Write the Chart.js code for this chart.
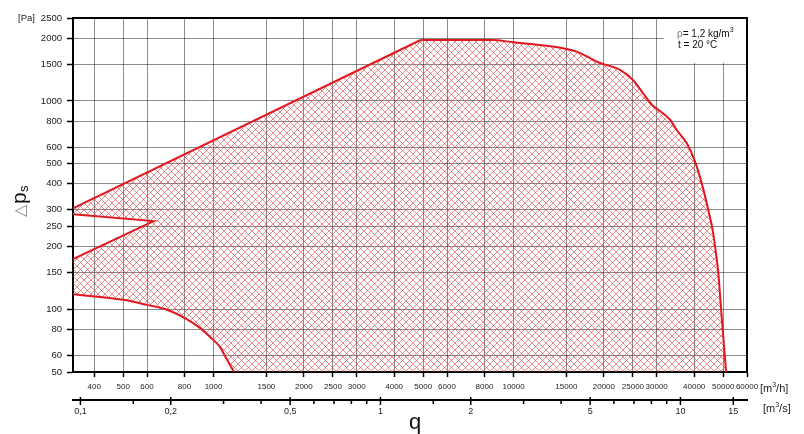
<!DOCTYPE html>
<html>
<head>
<meta charset="utf-8">
<script src="https://cdn.jsdelivr.net/npm/chart.js@4/dist/chart.umd.min.js"></script>
<style>
  html, body { margin: 0; padding: 0; background: #fff; }
</style>
</head>
<body>
<canvas id="chart" width="804" height="434"></canvas>
<script>
// Límites de los ejes
const Q_MIN = 340, Q_MAX = 60000;
const P_MIN = 50, P_MAX = 2500;

// Marcas de los ejes
const qTicks = [400, 500, 600, 800, 1000, 1500, 2000, 2500, 3000, 4000, 5000, 6000, 8000, 10000,
                15000, 20000, 25000, 30000, 40000, 50000, 60000];
const pTicks = [50, 60, 80, 100, 150, 200, 250, 300, 400, 500, 600, 800, 1000, 1500, 2000, 2500];
const qsTicks = [0.1, 0.15, 0.2, 0.3, 0.4, 0.5, 0.6, 0.7, 0.8, 0.9, 1, 1.5, 2, 3, 4, 5, 6, 7, 8, 9, 10, 15];
const qsLabels = [0.1, 0.2, 0.5, 1, 2, 5, 10, 15];

// Borde superior recto (m3/h, Pa)
const topLineQ = [340, 4900];
const topLineP = [305, 1960];

// Curva superior derecha
const curveQ = [4900, 8500, 10000, 12000, 14600, 16300, 19450, 22650, 25000, 27000, 29000, 30100,
                33300, 35000, 37800, 40300, 42400, 44600, 46100, 47300, 48150, 49000, 50000, 51100];
const curveP = [1960, 1960, 1910, 1860, 1790, 1720, 1520, 1410, 1260, 1090, 955, 915,
                810, 725, 626, 510, 402, 299, 240, 185, 149, 107, 74, 50];

// Curva inferior izquierda
const lowerQ = [340, 500, 600, 692, 800, 905, 1000, 1050, 1096, 1170];
const lowerP = [118, 111, 105, 100, 91, 81, 71, 66, 59, 50];

// Cuña a la izquierda
const wedgeQ = [340, 631, 340];
const wedgeP = [174, 265, 286];

const pts = (qs, ps) => qs.map((q, i) => ({ x: q, y: ps[i] }));

// Polígono de la zona de trabajo
const area = [
    ...pts(topLineQ, topLineP),
    ...pts(curveQ.slice(1), curveP.slice(1)),
    ...pts(lowerQ, lowerP).reverse(),
    ...pts(wedgeQ, wedgeP)
];

const RED = 'rgb(226, 22, 30)';
const FONT = '"Liberation Sans", Arial, sans-serif';

// Trama cruzada roja
const canvas = document.getElementById('chart');
const ctx = canvas.getContext('2d');
function makeHatch() {
    const c = document.createElement('canvas');
    c.width = 7; c.height = 7;
    const g = c.getContext('2d');
    g.strokeStyle = 'rgba(218, 50, 50, 0.7)';
    g.lineWidth = 0.8;
    g.beginPath();
    for (const o of [-7, 0, 7]) {
        g.moveTo(o, 0); g.lineTo(o + 7, 7);
        g.moveTo(o, 7); g.lineTo(o + 7, 0);
    }
    g.stroke();
    return ctx.createPattern(c, 'repeat');
}

Chart.defaults.font.family = FONT;
Chart.defaults.font.size = 8;
Chart.defaults.color = '#222';

// texto con exponente "3"
function unitText(ctx, x, y, before, after, size) {
    ctx.font = size + 'px ' + FONT;
    ctx.fillText(before, x, y);
    x += ctx.measureText(before).width;
    ctx.font = Math.round(size * 0.65) + 'px ' + FONT;
    ctx.fillText('3', x, y - size * 0.35);
    x += ctx.measureText('3').width;
    ctx.font = size + 'px ' + FONT;
    ctx.fillText(after, x, y);
}

// Textos y detalles extra
const extras = {
    id: 'extras',
    beforeDatasetsDraw(chart) {
        const { ctx, chartArea: a } = chart;
        ctx.save();
        ctx.fillStyle = '#fff';
        ctx.fillRect(664, a.top + 1, a.right - 665, 44);
        ctx.restore();
    },
    afterDraw(chart) {
        const { ctx, chartArea: a } = chart;
        const x2 = chart.scales.x2;
        ctx.save();
        // marco
        ctx.strokeStyle = '#000';
        ctx.lineWidth = 2;
        ctx.beginPath();
        ctx.moveTo(a.left, a.top);
        ctx.lineTo(a.right, a.top);
        ctx.lineTo(a.right, a.bottom);
        ctx.stroke();

        // marcas del eje m3/s
        const y0 = x2.top + 1;
        ctx.lineWidth = 1.5;
        ctx.beginPath();
        qsTicks.forEach(v => {
            const px = x2.getPixelForValue(v);
            const big = qsLabels.includes(v);
            ctx.moveTo(px, y0 - (big ? 4 : 2));
            ctx.lineTo(px, y0 + (big ? 4 : 3));
        });
        ctx.stroke();

        ctx.fillStyle = '#222';
        ctx.textBaseline = 'middle';
        ctx.textAlign = 'left';
        ctx.font = '9.5px ' + FONT;
        ctx.fillText('[Pa]', 18, 18);
        unitText(ctx, 760, 389, '[m', '/h]', 11);
        unitText(ctx, 763, 409, '[m', '/s]', 11);

        // densidad y temperatura
        ctx.font = '10px ' + FONT;
        ctx.fillStyle = '#777';
        ctx.fillText('ρ', 677, 34);
        ctx.fillStyle = '#111';
        unitText(ctx, 677 + ctx.measureText('ρ').width, 34, '= 1,2 kg/m', '', 10);
        ctx.font = '10px ' + FONT;
        ctx.fillText('t = 20 °C', 678, 45);

        // q
        ctx.font = '22px ' + FONT;
        ctx.textAlign = 'center';
        ctx.fillStyle = '#111';
        ctx.fillText('q', 415, 423);

        // Δps vertical
        ctx.translate(26, 217);
        ctx.rotate(-Math.PI / 2);
        ctx.textAlign = 'left';
        ctx.textBaseline = 'alphabetic';
        ctx.font = '16px "DejaVu Sans", sans-serif';
        ctx.fillStyle = '#888';
        ctx.fillText('△', 0, -1);
        ctx.font = '21px ' + FONT;
        ctx.fillStyle = '#111';
        ctx.fillText('p', 13, 0);
        ctx.font = '13px ' + FONT;
        ctx.fillText('s', 25, 2);
        ctx.restore();
    }
};

const gridColor = 'rgba(0, 0, 0, 0.45)';
const redLine = { borderColor: RED, borderWidth: 2, pointRadius: 0, fill: false };

new Chart(ctx, {
    type: 'line',
    data: {
        datasets: [
            {
                data: area,
                fill: 'shape',
                backgroundColor: makeHatch(),
                borderColor: 'transparent',
                borderWidth: 0,
                pointRadius: 0,
                tension: 0
            },
            { ...redLine, data: pts(topLineQ, topLineP), tension: 0 },
            { ...redLine, data: pts(curveQ, curveP), cubicInterpolationMode: 'monotone' },
            { ...redLine, data: pts(lowerQ, lowerP), cubicInterpolationMode: 'monotone' },
            { ...redLine, data: pts(wedgeQ, wedgeP), tension: 0 }
        ]
    },
    options: {
        responsive: false,
        animation: false,
        layout: { padding: { left: 0, top: 18, right: 57, bottom: 0 } },
        plugins: { legend: { display: false }, tooltip: { enabled: false } },
        scales: {
            x: {
                type: 'logarithmic',
                position: 'bottom',
                min: Q_MIN, max: Q_MAX,
                weight: 0,
                afterBuildTicks: s => { s.ticks = qTicks.map(v => ({ value: v })); },
                afterFit: s => { s.height = 28; },
                ticks: { autoSkip: false, maxRotation: 0, minRotation: 0, padding: 5,
                         font: { size: 8 }, callback: v => String(v) },
                grid: { color: gridColor, lineWidth: 1, tickLength: 5, tickColor: '#000', tickWidth: 1.5 },
                border: { color: '#000', width: 2 }
            },
            x2: {
                type: 'logarithmic',
                position: 'bottom',
                min: Q_MIN / 3600, max: Q_MAX / 3600,
                weight: 1,
                afterBuildTicks: s => { s.ticks = qsTicks.map(v => ({ value: v })); },
                afterFit: s => { s.height = 34; },
                ticks: { autoSkip: false, maxRotation: 0, minRotation: 0, padding: 6,
                         font: { size: 9 },
                         callback: v => qsLabels.includes(v) ? String(v).replace('.', ',') : '' },
                grid: { display: true, drawOnChartArea: false, drawTicks: false },
                border: { color: '#000', width: 2 }
            },
            y: {
                type: 'logarithmic',
                min: P_MIN, max: P_MAX,
                afterBuildTicks: s => { s.ticks = pTicks.map(v => ({ value: v })); },
                afterFit: s => { s.width = 73; },
                ticks: { autoSkip: false, padding: 5, font: { size: 9.5 }, callback: v => String(v) },
                grid: { color: gridColor, lineWidth: 1, tickLength: 6, tickColor: '#000', tickWidth: 1.5 },
                border: { color: '#000', width: 2 }
            }
        }
    },
    plugins: [extras]
});
</script>
</body>
</html>
